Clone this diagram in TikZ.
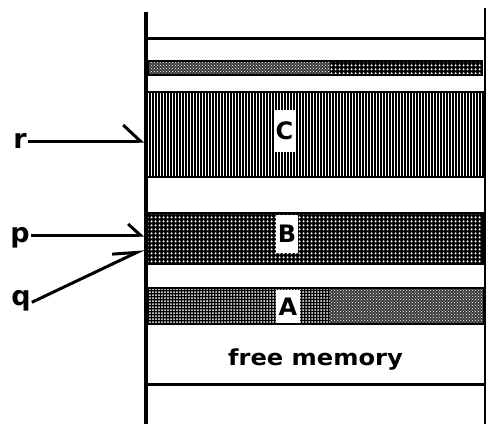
\documentclass[tikz,border=0pt]{standalone}
\usepackage{fontspec}
\setmainfont{DejaVu Sans}
\usepackage{tikz}
\usetikzlibrary{arrows.meta,patterns,patterns.meta,positioning}
\definecolor{inkblack}{HTML}{000000}
\definecolor{mottlegrey}{HTML}{3A3A3A}
\tikzset{
  wall/.style       = {inkblack, line width=4pt},
  thin wall/.style  = {inkblack, line width=2pt},
  rule/.style       = {inkblack, line width=3pt},
  block/.style      = {draw=inkblack, line width=1.6pt},
  striped/.style    = {preaction={fill=white},
                       pattern={Lines[angle=90,distance=3pt,line width=1.4pt]},
                       pattern color=inkblack},
  dark dots/.style  = {preaction={fill=inkblack},
                       pattern={Dots[distance=4pt,radius=1.4pt]},
                       pattern color=white},
  fine dots/.style  = {preaction={fill=inkblack},
                       pattern={Dots[distance=3pt,radius=1pt]},
                       pattern color=white},
  mottled/.style    = {preaction={fill=mottlegrey},
                       pattern=crosshatch dots, pattern color=white},
  letter box/.style = {fill=white, inner sep=0pt, minimum width=22pt,
                       minimum height=38pt,
                       font=\fontsize{24}{26}\selectfont\bfseries},
  ptr label/.style  = {inner sep=1pt, anchor=base,
                       font=\fontsize{27}{30}\selectfont\bfseries},
  pointer/.style    = {inkblack, line width=3pt},
}
\begin{document}
\begin{tikzpicture}[x=1pt, y=-1pt]
  \useasboundingbox (0,0) rectangle (487,424);
  % small block at the top
  \path[mottled] (148,61) rectangle (330,75);
  \path[dark dots] (330,61) rectangle (482,75);
  \draw[block] (148,61) rectangle (482,75);
  % block C
  \path[striped] (146,92) rectangle (485,177);
  \draw[block] (146,92) rectangle (485,177);
  % block B
  \path[dark dots] (146,213) rectangle (483,264);
  \draw[block] (146,213) rectangle (483,264);
  % block A
  \path[fine dots] (146,288) rectangle (330,324);
  \path[mottled] (330,288) rectangle (484,324);
  \draw[block] (146,288) rectangle (484,324);
  % names of the blocks
  \node[letter box, minimum height=42pt] (cname) at (284.5,131) {C};
  \node[letter box] (bname) at (287,234) {B};
  \node[letter box, minimum width=24pt, minimum height=33pt] (aname) at (288,306.5) {A};
  \node[font=\fontsize{22}{26}\selectfont\bfseries, anchor=base, xscale=1.1]
    (free) at (315.5,365) {free memory};
  % walls and rules
  \draw[rule] (146,38) -- (485,38);
  \draw[rule] (146,384) -- (485,384);
  \draw[wall] (146,12) -- (146,424);
  \draw[thin wall] (485,8) -- (485,424);
  % pointers
  \node[ptr label] (rlabel) at (20,148) {r};
  \node[ptr label] (plabel) at (20,242) {p};
  \node[ptr label] (qlabel) at (21,305) {q};
  \coordinate (rend) at (144,141);
  \coordinate (pend) at (144,235);
  \coordinate (qend) at (144,249);
  \draw[pointer, -{Straight Barb[left, length=17pt, width=32pt]}]
    (rlabel.east |- rend) -- (rend);
  \draw[pointer, -{Straight Barb[left, length=12pt, width=22pt]}]
    (plabel.east |- pend) -- (pend);
  \draw[pointer, -{Straight Barb[left, length=23pt, width=18pt]}]
    (qlabel.mid east) -- (qend);
\end{tikzpicture}
\end{document}
